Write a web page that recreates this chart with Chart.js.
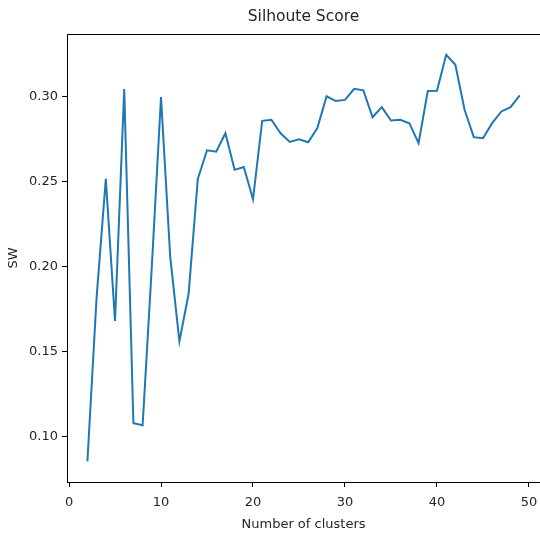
<!DOCTYPE html>
<html lang="en">
<head>
    <meta charset="UTF-8">
    <title>Silhoute Score</title>
    <script src="https://cdn.jsdelivr.net/npm/chart.js"></script>
    <style>
        html, body {
            margin: 0;
            padding: 0;
            background: white;
        }
        .chart-box {
            width: 540px;
            height: 533px;
        }
    </style>
</head>
<body>
    <div class="chart-box">
        <canvas id="swChart"></canvas>
    </div>
    <script>
        // number of clusters and the silhouette score for each
        const clusters = [2, 3, 4, 5, 6, 7, 8, 9, 10, 11, 12, 13, 14, 15, 16, 17, 18, 19, 20, 21, 22, 23, 24, 25,
            26, 27, 28, 29, 30, 31, 32, 33, 34, 35, 36, 37, 38, 39, 40, 41, 42, 43, 44, 45, 46, 47, 48, 49];
        const scores = [0.0856, 0.182, 0.2515, 0.168, 0.3042, 0.108, 0.1068, 0.200, 0.2995, 0.2058, 0.156, 0.184,
            0.2515, 0.2683, 0.2675, 0.2783, 0.2568, 0.2585, 0.2395, 0.2856, 0.2862, 0.2783, 0.2732, 0.2748,
            0.273, 0.2813, 0.3, 0.2972, 0.2979, 0.3044, 0.3035, 0.2877, 0.2936, 0.2858, 0.2862, 0.2842,
            0.2725, 0.3031, 0.3032, 0.3244, 0.3185, 0.2921, 0.276, 0.2754, 0.2842, 0.2911, 0.2936, 0.3005];
        const xTicks = [0, 10, 20, 30, 40, 50];
        const yTicks = [0.10, 0.15, 0.20, 0.25, 0.30];
        const chartTitle = 'Silhoute Score';

        const textColor = '#262626';
        const fontFamily = "'DejaVu Sans', sans-serif";

        // title centred over the axes (like matplotlib) and the top spine;
        // the right spine falls outside the picture
        const axesDecor = {
            id: 'axesDecor',
            afterDraw(chart) {
                const { ctx, chartArea } = chart;
                ctx.save();
                ctx.strokeStyle = '#000';
                ctx.lineWidth = 1;
                ctx.beginPath();
                ctx.moveTo(chartArea.left, chartArea.top + 0.5);
                ctx.lineTo(chart.width, chartArea.top + 0.5);
                ctx.stroke();

                ctx.fillStyle = textColor;
                ctx.font = '15.5px ' + fontFamily;
                ctx.textAlign = 'center';
                ctx.textBaseline = 'middle';
                const mid = chart.scales.x.getPixelForValue(-0.22) + (chart.width - chartArea.left) / 2;
                ctx.fillText(chartTitle, mid, 17);
                ctx.restore();
            }
        };

        const ctx = document.getElementById('swChart').getContext('2d');
        new Chart(ctx, {
            type: 'line',
            data: {
                datasets: [{
                    data: clusters.map((k, i) => ({ x: k, y: scores[i] })),
                    borderColor: '#1f77b4',
                    borderWidth: 2,
                    pointRadius: 0,
                    tension: 0,
                    fill: false
                }]
            },
            options: {
                responsive: true,
                maintainAspectRatio: false,
                animation: false,
                layout: { padding: { top: 34, left: 0, right: 0, bottom: 0 } },
                plugins: {
                    legend: { display: false },
                    tooltip: { enabled: false },
                    title: { display: false }
                },
                scales: {
                    x: {
                        type: 'linear',
                        min: -0.22,
                        max: 51.2,
                        afterBuildTicks: scale => {
                            scale.ticks = xTicks.map(v => ({ value: v }));
                        },
                        afterFit: scale => {
                            scale.height = 51;
                            scale.paddingLeft = 0;
                            scale.paddingRight = 0;
                        },
                        grid: {
                            drawOnChartArea: false,
                            drawTicks: true,
                            tickLength: 5,
                            color: '#000'
                        },
                        border: { display: true, color: '#000', width: 1 },
                        ticks: {
                            color: textColor,
                            font: { family: fontFamily, size: 13 },
                            padding: 8,
                            maxRotation: 0,
                            callback: v => v
                        },
                        title: {
                            display: true,
                            text: 'Number of clusters',
                            color: textColor,
                            font: { family: fontFamily, size: 13 },
                            padding: { top: 0, bottom: 1 }
                        }
                    },
                    y: {
                        min: 0.0734,
                        max: 0.3366,
                        afterBuildTicks: scale => {
                            scale.ticks = yTicks.map(v => ({ value: v }));
                        },
                        afterFit: scale => {
                            scale.width = 67;
                            scale.paddingTop = 0;
                            scale.paddingBottom = 0;
                        },
                        grid: {
                            drawOnChartArea: false,
                            drawTicks: true,
                            tickLength: 5,
                            color: '#000'
                        },
                        border: { display: true, color: '#000', width: 1 },
                        ticks: {
                            color: textColor,
                            font: { family: fontFamily, size: 13 },
                            padding: 4,
                            callback: v => v.toFixed(2)
                        },
                        title: {
                            display: true,
                            text: 'SW',
                            color: textColor,
                            font: { family: fontFamily, size: 13 },
                            padding: { top: 6, bottom: 0 }
                        }
                    }
                }
            },
            plugins: [axesDecor]
        });
    </script>
</body>
</html>
